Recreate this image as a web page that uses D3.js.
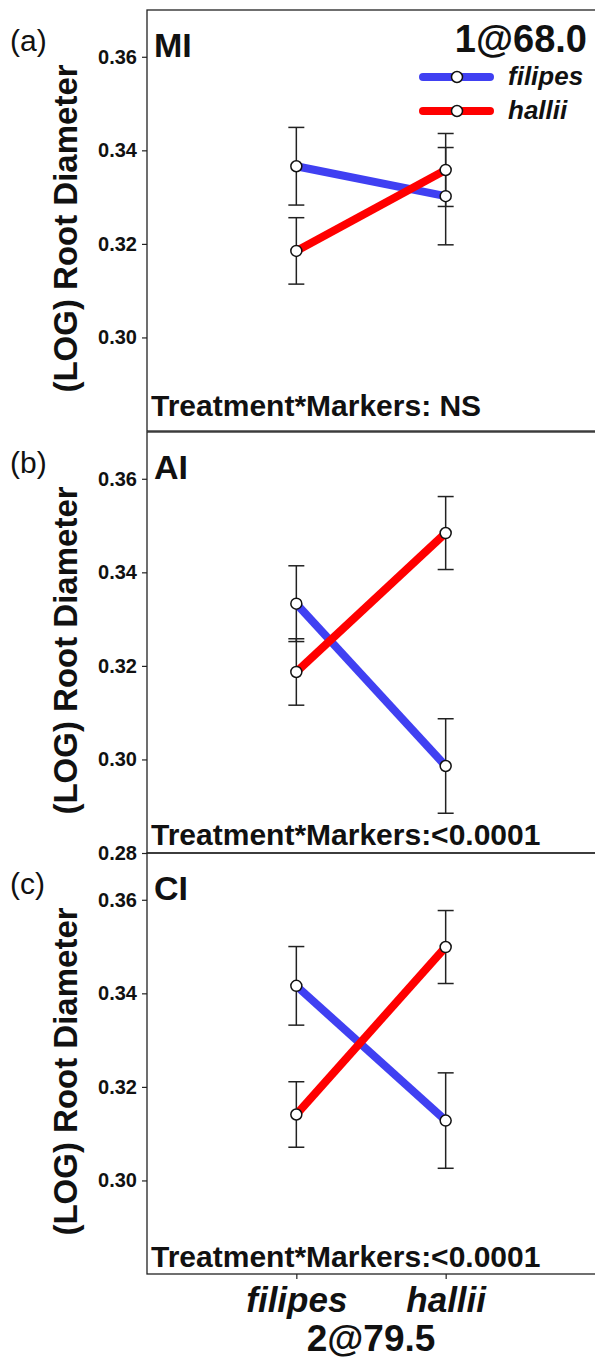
<!DOCTYPE html>
<html>
<head>
<meta charset="utf-8">
<script src="https://cdn.jsdelivr.net/npm/d3@7"></script>
<style>
  body { margin: 0; background: #fff; }
  svg { display: block; font-family: "Liberation Sans", Arial, sans-serif; }
</style>
</head>
<body>
<svg id="chart"></svg>
<script>
// markers on the x axis, one panel per treatment
var markers = ["filipes", "hallii"];
var panelTags = ["(a)", "(b)", "(c)"];
var panelNames = ["MI", "AI", "CI"];
var testLabels = ["Treatment*Markers: NS", "Treatment*Markers:<0.0001", "Treatment*Markers:<0.0001"];
var panelTicks = [[0.30, 0.32, 0.34, 0.36], [0.28, 0.30, 0.32, 0.34, 0.36], [0.30, 0.32, 0.34, 0.36]];

// means / standard errors, [panel][marker]
var filipesMean = [[0.3366, 0.3302], [0.3333, 0.2986], [0.3416, 0.3128]];
var filipesSE   = [[0.0083, 0.0104], [0.0081, 0.0101], [0.0084, 0.0102]];
var halliiMean  = [[0.3185, 0.3358], [0.3187, 0.3484], [0.3141, 0.3499]];
var halliiSE    = [[0.0071, 0.0078], [0.0071, 0.0078], [0.0070, 0.0078]];

var seriesNames = ["filipes", "hallii"];
var seriesColors = ["#4040f2", "#ff0000"];

var width = 595, height = 1368;
var left = 147, right = 595;
var panelTops = [10, 432, 853];
var panelH = 421;
var textGap = [15, 8, 7];

var svg = d3.select("#chart").attr("width", width).attr("height", height);

var x = d3.scalePoint().domain(markers).range([left, right]).padding(1);

panelNames.forEach(function(name, p) {
    var top = panelTops[p], bottom = top + panelH;
    var y = d3.scaleLinear().domain([0.28, 0.37]).range([bottom, top]);
    var g = svg.append("g");

    // box
    g.append("rect")
        .attr("x", left).attr("y", top)
        .attr("width", right - left + 2).attr("height", panelH)
        .attr("fill", "none").attr("stroke", "#222").attr("stroke-width", 1.3);

    // y axis
    var ax = g.append("g")
        .attr("transform", "translate(" + left + ",0)")
        .call(d3.axisLeft(y).tickValues(panelTicks[p]).tickFormat(d3.format(".2f"))
            .tickSize(5).tickSizeOuter(0).tickPadding(5));
    ax.select(".domain").remove();
    ax.selectAll("line").attr("stroke", "#222").attr("stroke-width", 1.2);
    ax.selectAll("text").attr("font-size", 20).attr("font-weight", "bold")
        .attr("font-family", "Liberation Sans, Arial, sans-serif").attr("fill", "#111");

    // y title
    g.append("text")
        .attr("transform", "translate(77," + (top + panelH / 2 + 8) + ") rotate(-90)")
        .attr("text-anchor", "middle")
        .attr("font-size", 33).attr("font-weight", "bold").attr("fill", "#111")
        .text("(LOG) Root Diameter");

    g.append("text")
        .attr("x", 10).attr("y", top + 41)
        .attr("font-size", 30).attr("fill", "#111")
        .text(panelTags[p]);

    g.append("text")
        .attr("x", 154).attr("y", top + 47)
        .attr("font-size", 34).attr("font-weight", "bold").attr("fill", "#111")
        .text(name);

    g.append("text")
        .attr("x", 151).attr("y", bottom - textGap[p])
        .attr("font-size", 30).attr("font-weight", "bold").attr("fill", "#111")
        .text(testLabels[p]);

    var series = [
        markers.map(function(m, i) { return {m: m, v: filipesMean[p][i], se: filipesSE[p][i]}; }),
        markers.map(function(m, i) { return {m: m, v: halliiMean[p][i], se: halliiSE[p][i]}; })
    ];

    // error bars
    series.forEach(function(pts) {
        var eb = g.append("g").selectAll("g").data(pts).enter().append("g")
            .attr("stroke", "#222").attr("stroke-width", 1.5);
        eb.append("line")
            .attr("x1", function(d) { return x(d.m); }).attr("x2", function(d) { return x(d.m); })
            .attr("y1", function(d) { return y(d.v + d.se); }).attr("y2", function(d) { return y(d.v - d.se); });
        eb.append("line")
            .attr("x1", function(d) { return x(d.m) - 8; }).attr("x2", function(d) { return x(d.m) + 8; })
            .attr("y1", function(d) { return y(d.v + d.se); }).attr("y2", function(d) { return y(d.v + d.se); });
        eb.append("line")
            .attr("x1", function(d) { return x(d.m) - 8; }).attr("x2", function(d) { return x(d.m) + 8; })
            .attr("y1", function(d) { return y(d.v - d.se); }).attr("y2", function(d) { return y(d.v - d.se); });
    });

    var line = d3.line().x(function(d) { return x(d.m); }).y(function(d) { return y(d.v); });

    series.forEach(function(pts, s) {
        g.append("path").datum(pts)
            .attr("d", line)
            .attr("fill", "none").attr("stroke", seriesColors[s]).attr("stroke-width", 8);
    });
    series.forEach(function(pts) {
        g.append("g").selectAll("circle").data(pts).enter().append("circle")
            .attr("cx", function(d) { return x(d.m); })
            .attr("cy", function(d) { return y(d.v); })
            .attr("r", 5.5)
            .attr("fill", "#fff").attr("stroke", "#111").attr("stroke-width", 1.5);
    });

    // legend and marker label only in first panel
    if (p === 0) {
        svg.append("text")
            .attr("x", 587).attr("y", 52)
            .attr("text-anchor", "end")
            .attr("font-size", 38).attr("font-weight", "bold").attr("fill", "#111")
            .text("1@68.0");
        seriesNames.forEach(function(sn, s) {
            var ly = 77 + s * 34;
            svg.append("line")
                .attr("x1", 423).attr("x2", 490).attr("y1", ly).attr("y2", ly)
                .attr("stroke", seriesColors[s]).attr("stroke-width", 8).attr("stroke-linecap", "round");
            svg.append("circle")
                .attr("cx", 457).attr("cy", ly).attr("r", 5.5)
                .attr("fill", "#fff").attr("stroke", "#111").attr("stroke-width", 1.5);
            svg.append("text")
                .attr("x", 508).attr("y", ly + 8)
                .attr("font-size", 26).attr("font-weight", "bold").attr("font-style", "italic")
                .attr("fill", "#111")
                .text(sn);
        });
    }
});

// bottom x axis
var bottomY = panelTops[2] + panelH;
var xa = svg.append("g")
    .attr("transform", "translate(0," + bottomY + ")")
    .call(d3.axisBottom(x).tickSize(5).tickSizeOuter(0).tickPadding(8));
xa.select(".domain").remove();
xa.selectAll("line").attr("stroke", "#222").attr("stroke-width", 1.2);
xa.selectAll("text")
    .attr("font-size", 35).attr("font-weight", "bold").attr("font-style", "italic")
    .attr("font-family", "Liberation Sans, Arial, sans-serif").attr("fill", "#111")
    .attr("dy", "0.71em");

svg.append("text")
    .attr("x", (x("filipes") + x("hallii")) / 2).attr("y", 1351)
    .attr("text-anchor", "middle")
    .attr("font-size", 37).attr("font-weight", "bold").attr("fill", "#111")
    .text("2@79.5");
</script>
</body>
</html>
